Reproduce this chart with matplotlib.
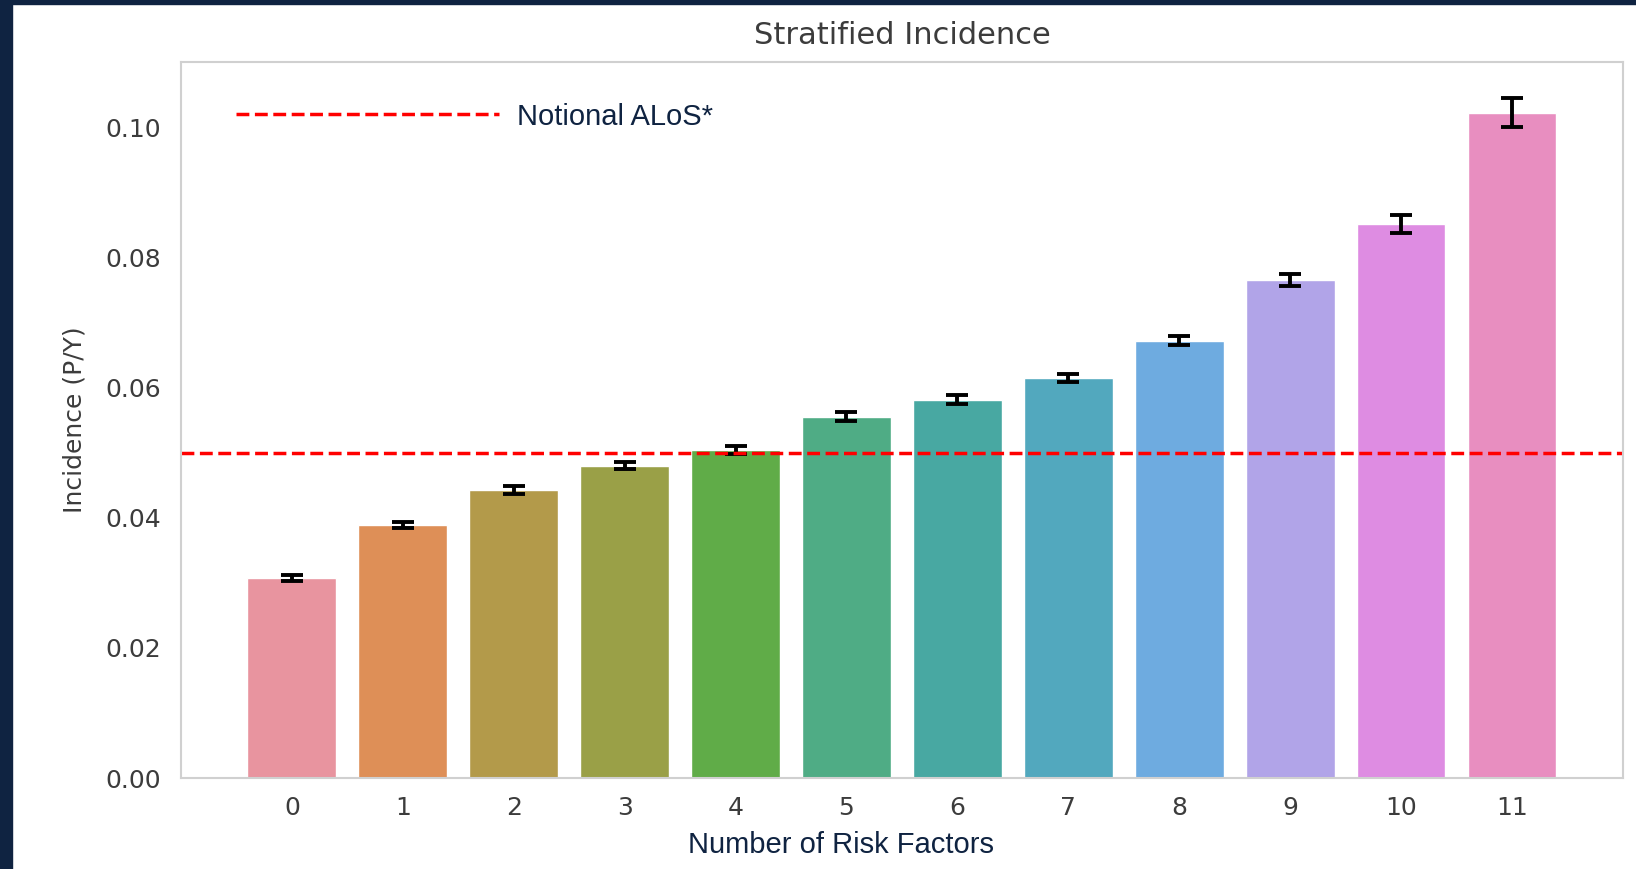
import matplotlib
matplotlib.use("Agg")
import matplotlib.pyplot as plt
import seaborn as sns
from matplotlib.patches import Rectangle

# Incidence per number of risk factors, with error bar half-widths
risk_factors = ["0", "1", "2", "3", "4", "5", "6", "7", "8", "9", "10", "11"]
incidence = [0.0307, 0.0389, 0.0442, 0.0480, 0.0504, 0.0555,
             0.0581, 0.0614, 0.0672, 0.0765, 0.0851, 0.1022]
incidence_err = [0.0005, 0.0005, 0.0006, 0.0006, 0.0006, 0.0007,
                 0.0007, 0.0006, 0.0007, 0.0009, 0.0014, 0.0022]
alos_level = 0.05

sns.set_style("whitegrid")
plt.rcParams["font.family"] = ["DejaVu Sans"]

navy = "#0f2341"
text_grey = "#3c3c3c"
# soft husl-like palette, one colour per bar
bar_colors = ["#e8949f", "#de8f57", "#b39a4a", "#9aa047", "#60ac48", "#4fac85",
              "#48a8a2", "#52a8be", "#6eabe0", "#b1a4e8", "#de8ce2", "#e88ec0"]

fig = plt.figure(figsize=(16.36, 8.69), dpi=100)
ax = fig.add_axes([0.1106, 0.1047, 0.8814, 0.824])

x = range(len(risk_factors))
ax.bar(x, incidence, width=0.8, color=bar_colors)
ax.errorbar(x, incidence, yerr=incidence_err, fmt="none", ecolor="black",
            elinewidth=2.8, capsize=8, capthick=2.8)

ax.axhline(alos_level, color="red", linestyle="--", linewidth=2.5,
           label="Notional ALoS*")

ax.set_xlim(-1, 12)
ax.set_ylim(0, 0.11)
ax.set_xticks(list(x))
ax.set_xticklabels(risk_factors)
ax.set_yticks([0.0, 0.02, 0.04, 0.06, 0.08, 0.10])
ax.yaxis.set_major_formatter(matplotlib.ticker.FormatStrFormatter("%.2f"))
ax.grid(False)
ax.tick_params(axis="both", labelsize=18, colors=text_grey, length=0)
ax.tick_params(axis="x", pad=13)
ax.tick_params(axis="y", pad=14)
for spine in ax.spines.values():
    spine.set_color("#d0d0d0")
    spine.set_linewidth(1.5)

ax.set_title("Stratified Incidence", fontsize=22, color=text_grey, pad=13)
ax.set_ylabel("Incidence (P/Y)", fontsize=18, color=text_grey, labelpad=14)
ax.set_xlabel("Number of Risk Factors", fontsize=21, color=navy,
              family="Liberation Sans", va="center")
ax.xaxis.set_label_coords(0.4577, -0.094)

leg = ax.legend(loc="upper left", bbox_to_anchor=(0.02, 0.98), frameon=False,
                handlelength=9.0, handletextpad=0.65,
                prop={"family": "Liberation Sans", "size": 21})
for t in leg.get_texts():
    t.set_color(navy)

# dark frame along the left and top edges
fig.patches.append(Rectangle((0, 0), 12 / 1636, 1, transform=fig.transFigure,
                             color=navy, zorder=10))
fig.patches.append(Rectangle((0, 1 - 4 / 869), 1, 4 / 869,
                             transform=fig.transFigure, color=navy, zorder=10))

fig.savefig("out.png", dpi=100)
